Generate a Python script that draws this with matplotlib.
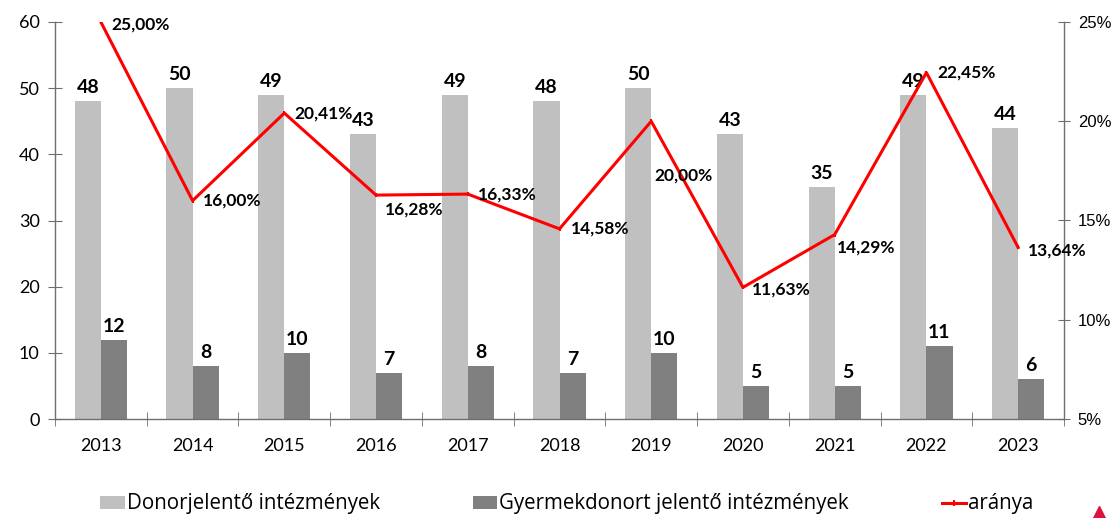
import numpy as np
import matplotlib
matplotlib.use("Agg")
import matplotlib.pyplot as plt
from matplotlib.lines import Line2D
from matplotlib.patches import Patch
from matplotlib.ticker import FuncFormatter, MultipleLocator

years = ["2013", "2014", "2015", "2016", "2017", "2018", "2019", "2020", "2021", "2022", "2023"]
donor_inst = [48, 50, 49, 43, 49, 48, 50, 43, 35, 49, 44]
child_inst = [12, 8, 10, 7, 8, 7, 10, 5, 5, 11, 6]
ratio_pct = [25.00, 16.00, 20.41, 16.28, 16.33, 14.58, 20.00, 11.63, 14.29, 22.45, 13.64]

# label offsets in pixels (dx, dy) for the percentage labels
pct_offsets = [(11, -3), (10, 0), (10, 0), (9, -14), (10, 0), (11, 0),
               (3, -54), (9, -2), (2, -13), (11, 0), (10, -3)]

LIGHT = "#c0c0c0"
DARK = "#808080"
RED = "#ff0000"
AXC = "#6e6e6e"
FONT = "Lato"

fig = plt.figure(figsize=(11.2, 5.18), dpi=100)
ax = fig.add_axes([55 / 1120, 1 - 419 / 518, (1064 - 55) / 1120, (419 - 22) / 518])
ax2 = ax.twinx()

x = np.arange(len(years))
bw = 0.285
b1 = ax.bar(x - bw / 2, donor_inst, width=bw, color=LIGHT, zorder=2)
b2 = ax.bar(x + bw / 2, child_inst, width=bw, color=DARK, zorder=2)

for bars, vals in ((b1, donor_inst), (b2, child_inst)):
    for rect, v in zip(bars, vals):
        ax.annotate(str(v), (rect.get_x() + rect.get_width() / 2, v), xytext=(0, 5),
                    textcoords="offset pixels", ha="center", va="bottom",
                    fontsize=14, fontweight="bold", family=FONT, color="black")

ax.set_xlim(-0.5, len(years) - 0.5)
ax.set_ylim(0, 60)
ax.yaxis.set_major_locator(MultipleLocator(10))
ax.set_xticks(x)
ax.set_xticklabels(years, family=FONT, fontsize=13)
ax.set_xticks(np.arange(len(years) + 1) - 0.5, minor=True)
ax.tick_params(axis="x", which="major", length=0, pad=14)
ax.tick_params(axis="x", which="minor", length=10, direction="inout", color=AXC)
ax.tick_params(axis="y", which="major", length=10, direction="inout", color=AXC,
               labelsize=13, pad=6)
for lab in ax.get_yticklabels():
    lab.set_family(FONT)

ax2.plot(x, [v / 100 for v in ratio_pct], color=RED, lw=2.2, zorder=3,
         marker="|", markersize=3, markeredgewidth=1.5)
ax2.set_ylim(0.05, 0.25)
ax2.yaxis.set_major_locator(MultipleLocator(0.05))
ax2.yaxis.set_major_formatter(FuncFormatter(lambda v, p: f"{v * 100:.0f}%"))
ax2.tick_params(axis="y", length=8, direction="inout", color=AXC, labelsize=12, pad=6)
for lab in ax2.get_yticklabels():
    lab.set_family("Liberation Sans")

for xi, v, (dx, dy) in zip(x, ratio_pct, pct_offsets):
    ax2.annotate(f"{v:.2f}".replace(".", ",") + "%", (xi, v / 100), xytext=(dx, dy),
                 textcoords="offset pixels", ha="left", va="center",
                 fontsize=12.5, fontweight="bold", family=FONT, color="black", zorder=5)

for a in (ax, ax2):
    a.spines["top"].set_visible(False)
    for s in ("left", "right", "bottom"):
        a.spines[s].set_color(AXC)
        a.spines[s].set_linewidth(1)
ax.spines["right"].set_visible(False)
ax2.spines["left"].set_visible(False)
ax2.spines["bottom"].set_visible(False)

handles = [
    Patch(facecolor=LIGHT, edgecolor="none"),
    Patch(facecolor=DARK, edgecolor="none"),
    Line2D([], [], color=RED, lw=2.2, marker="|", markersize=5, markeredgewidth=1.5),
]
labels = ["Donorjelentő intézmények", "Gyermekdonort jelentő intézmények", "aránya"]
fig.legend(handles, labels, loc="center", bbox_to_anchor=(567 / 1120, 1 - 504 / 518),
           ncol=3, frameon=False, prop={"family": "Open Sans", "size": 14.8},
           handlelength=1.2, handleheight=0.6, handletextpad=0.1,
           columnspacing=4.5, borderpad=0, borderaxespad=0)

# small red triangle mark at bottom right (partly outside the figure, as in the reference)
fig.add_artist(Line2D([1099 / 1120], [1 - 515 / 518], marker="^", markersize=13,
                      color="#dc143c", linestyle="none", transform=fig.transFigure))

fig.savefig("out.png", dpi=100)
